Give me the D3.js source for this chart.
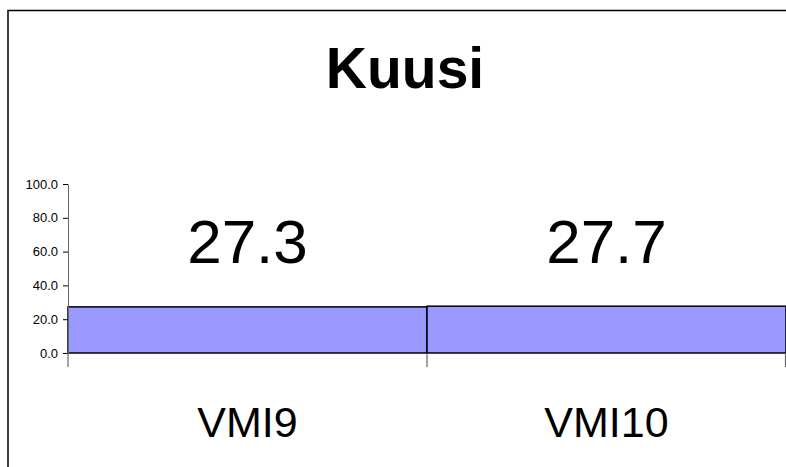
<html>
<head>
<script src="https://d3js.org/d3.v7.min.js"></script>
<style>
  body { margin: 0; background: #fff; }
  text { font-family: "Liberation Sans", Arial, sans-serif; }
</style>
</head>
<body>
<div id="chart"></div>
<script>
const categories = ["VMI9", "VMI10"];
const values = [27.3, 27.7];
const yTicks = [0, 20, 40, 60, 80, 100];
const title = "Kuusi";

const w = 786, h = 467;
const padLeft = 68, padRight = 786, padTop = 184, padBottom = 353;

const svg = d3.select("#chart").append("svg")
    .attr("width", w)
    .attr("height", h);

// outer chart frame, runs off the right and bottom edges
svg.append("rect")
    .attr("x", 8).attr("y", 10.5)
    .attr("width", 800).attr("height", 480)
    .attr("fill", "none")
    .attr("stroke", "#000")
    .attr("stroke-width", 1.5);

svg.append("text")
    .attr("x", 405).attr("y", 88)
    .attr("text-anchor", "middle")
    .style("font-size", "57px")
    .style("font-weight", "bold")
    .text(title);

const x = d3.scaleBand().domain(categories).range([padLeft, padRight]).padding(0);
const y = d3.scaleLinear().domain([0, 100]).range([padBottom, padTop]);

// bars
svg.selectAll(".bar")
    .data(values)
    .enter()
    .append("rect")
    .attr("class", "bar")
    .attr("x", (d, i) => x(categories[i]))
    .attr("y", d => y(d))
    .attr("width", x.bandwidth())
    .attr("height", d => y(0) - y(d))
    .attr("fill", "#9999ff")
    .attr("stroke", "#000")
    .attr("stroke-width", 1.5);

// y axis
const yAxis = svg.append("g")
    .attr("transform", "translate(" + padLeft + ",0)")
    .call(d3.axisLeft(y).tickValues(yTicks).tickFormat(d3.format(".1f")).tickSize(5).tickSizeOuter(0));
yAxis.select(".domain").attr("stroke", "#666");
yAxis.selectAll("text").style("font-size", "13px").attr("x", -10).attr("fill", "#000");
yAxis.selectAll("line").attr("stroke", "#000");

// category ticks below the baseline
const edges = categories.map(c => x(c)).concat([x(categories[categories.length - 1]) + x.bandwidth()]);
svg.selectAll(".ctick")
    .data(edges)
    .enter()
    .append("line")
    .attr("x1", d => Math.min(d, w - 0.5)).attr("x2", d => Math.min(d, w - 0.5))
    .attr("y1", y(0)).attr("y2", y(0) + 14)
    .attr("stroke", "#666")
    .attr("stroke-width", 1.2);

// data labels
svg.selectAll(".lbl")
    .data(values)
    .enter()
    .append("text")
    .attr("x", (d, i) => x(categories[i]) + x.bandwidth() / 2)
    .attr("y", y(53))
    .attr("text-anchor", "middle")
    .style("font-size", "62px")
    .text(d => d.toFixed(1));

// category labels
svg.selectAll(".cat")
    .data(categories)
    .enter()
    .append("text")
    .attr("x", d => x(d) + x.bandwidth() / 2)
    .attr("y", 437)
    .attr("text-anchor", "middle")
    .style("font-size", "43px")
    .text(d => d);
</script>
</body>
</html>
